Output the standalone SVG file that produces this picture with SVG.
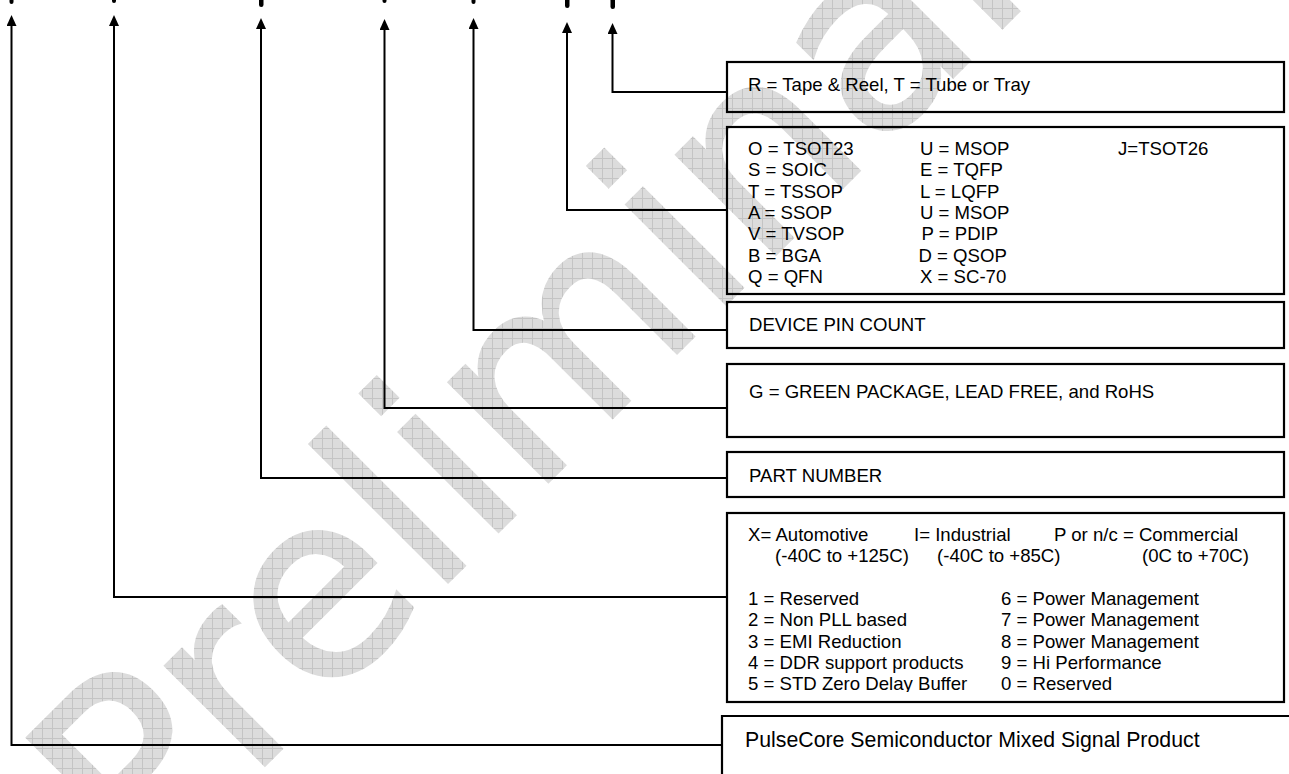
<svg xmlns="http://www.w3.org/2000/svg" width="1289" height="774" viewBox="0 0 1289 774">
<style>
  .box{fill:none;stroke:#000;stroke-width:2.2}
  .wire{fill:none;stroke:#000;stroke-width:2}
  .t{font-family:"Liberation Sans",Arial,sans-serif;font-size:18.6px;fill:#000}
  .big{font-family:"Liberation Sans",Arial,sans-serif;font-size:21.3px;fill:#000}
  .wm{font-family:"DejaVu Sans",Verdana,sans-serif;font-size:257px}
  .mark{fill:#000}
</style>
<defs>
  <marker id="arr" markerUnits="userSpaceOnUse" viewBox="0 0 11 10" refX="0" refY="5" markerWidth="11" markerHeight="10" orient="auto">
    <path d="M0,0 L11,5 L0,10 Z" fill="#000"/>
  </marker>
  <pattern id="hatch" width="10" height="10" patternUnits="userSpaceOnUse" patternTransform="rotate(45)">
    <rect width="10" height="10" fill="#dcdcdc"/>
    <path d="M0,0.5 H10 M0.5,0 V10" stroke="#c4c4c4" stroke-width="1"/>
  </pattern>
  <clipPath id="clipX"><rect x="727" y="513" width="557" height="179"/></clipPath>
</defs>
<rect width="1289" height="774" fill="#fff"/>

<g id="watermark">
  <text class="wm" fill="url(#hatch)" stroke="url(#hatch)" stroke-width="3" transform="translate(142,888) rotate(-45)">Preliminary</text>
</g>

<g id="top-marks">
  <rect class="mark" x="9.5" y="-2" width="4" height="6" rx="2"/>
  <rect class="mark" x="112" y="-2" width="4" height="5" rx="2"/>
  <rect class="mark" x="259" y="-2" width="4.5" height="9" rx="2.2"/>
  <rect class="mark" x="382.5" y="-2" width="4" height="5" rx="2"/>
  <rect class="mark" x="471.5" y="-2" width="4" height="6" rx="2"/>
  <rect class="mark" x="565" y="-2" width="4.5" height="10" rx="2.2"/>
  <rect class="mark" x="610.5" y="-2" width="4.5" height="11" rx="2.2"/>
</g>

<g id="connectors">
  <path class="wire" marker-end="url(#arr)" d="M728,92 H612.5 V34"/>
  <path class="wire" marker-end="url(#arr)" d="M728,210 H567 V33"/>
  <path class="wire" marker-end="url(#arr)" d="M728,330 H473.5 V29"/>
  <path class="wire" marker-end="url(#arr)" d="M728,408 H384.5 V30"/>
  <path class="wire" marker-end="url(#arr)" d="M728,478 H261 V29"/>
  <path class="wire" marker-end="url(#arr)" d="M728,597 H114 V26"/>
  <path class="wire" marker-end="url(#arr)" d="M722,745 H11.5 V26"/>
</g>

<g id="node-packing">
  <rect class="box" x="727" y="62" width="557" height="50"/>
  <text class="t" x="748" y="91">R = Tape &amp; Reel, T = Tube or Tray</text>
</g>

<g id="node-package">
  <rect class="box" x="727" y="127" width="557" height="167"/>
  <text class="t" x="748" y="155">O = TSOT23</text>
  <text class="t" x="920" y="155">U = MSOP</text>
  <text class="t" x="1118" y="155">J=TSOT26</text>
  <text class="t" x="748" y="176.3">S = SOIC</text>
  <text class="t" x="920" y="176.3">E = TQFP</text>
  <text class="t" x="748" y="197.7">T = TSSOP</text>
  <text class="t" x="920" y="197.7">L = LQFP</text>
  <text class="t" x="748" y="219">A = SSOP</text>
  <text class="t" x="920" y="219">U = MSOP</text>
  <text class="t" x="748" y="240.3">V = TVSOP</text>
  <text class="t" x="921.5" y="240.3">P = PDIP</text>
  <text class="t" x="748" y="261.7">B = BGA</text>
  <text class="t" x="918.5" y="261.7">D = QSOP</text>
  <text class="t" x="748" y="283">Q = QFN</text>
  <text class="t" x="920" y="283">X = SC-70</text>
</g>

<g id="node-pincount">
  <rect class="box" x="727" y="302" width="557" height="46"/>
  <text class="t" x="749" y="331">DEVICE PIN COUNT</text>
</g>

<g id="node-green">
  <rect class="box" x="727" y="364" width="557" height="73"/>
  <text class="t" x="749" y="398">G = GREEN PACKAGE, LEAD FREE, and RoHS</text>
</g>

<g id="node-partnumber">
  <rect class="box" x="727" y="452" width="557" height="45"/>
  <text class="t" x="749" y="482">PART NUMBER</text>
</g>

<g id="node-grade-family">
  <rect class="box" x="727" y="513" width="557" height="189"/>
  <g clip-path="url(#clipX)">
    <text class="t" x="748" y="541">X= Automotive</text>
    <text class="t" x="914" y="541">I= Industrial</text>
    <text class="t" x="1054" y="541">P or n/c = Commercial</text>
    <text class="t" x="775" y="562.3">(-40C to +125C)</text>
    <text class="t" x="937" y="562.3">(-40C to +85C)</text>
    <text class="t" x="1142" y="562.3">(0C to +70C)</text>
    <text class="t" x="748" y="605">1 = Reserved</text>
    <text class="t" x="1001" y="605">6 = Power Management</text>
    <text class="t" x="748" y="626.3">2 = Non PLL based</text>
    <text class="t" x="1001" y="626.3">7 = Power Management</text>
    <text class="t" x="748" y="647.6">3 = EMI Reduction</text>
    <text class="t" x="1001" y="647.6">8 = Power Management</text>
    <text class="t" x="748" y="669">4 = DDR support products</text>
    <text class="t" x="1001" y="669">9 = Hi Performance</text>
    <text class="t" x="748" y="690.3">5 = STD Zero Delay Buffer</text>
    <text class="t" x="1001" y="690.3">0 = Reserved</text>
  </g>
</g>

<g id="node-pulsecore">
  <path class="box" d="M1290,716 H722 V776"/>
  <text class="big" x="745" y="747">PulseCore Semiconductor Mixed Signal Product</text>
</g>
</svg>
